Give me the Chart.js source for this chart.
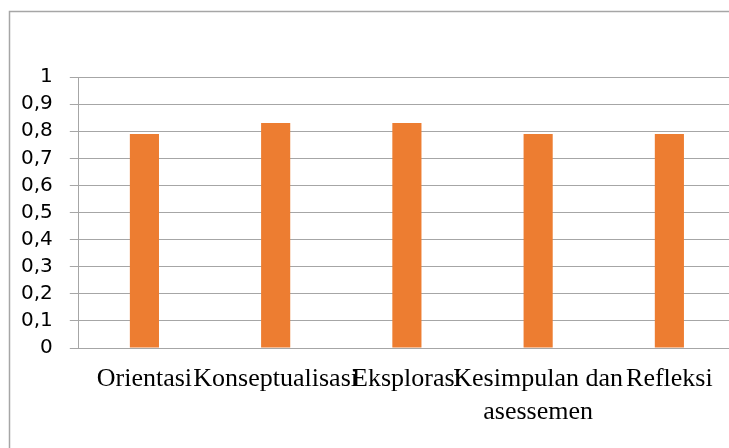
<!DOCTYPE html>
<html>
<head>
<meta charset="utf-8">
<script src="https://cdn.jsdelivr.net/npm/chart.js@4/dist/chart.umd.min.js"></script>
<style>
  html, body { margin: 0; padding: 0; background: #fff; overflow: hidden; }
  #wrap { position: relative; width: 735px; height: 448px; }
</style>
</head>
<body>
<div id="wrap"><canvas id="c"></canvas></div>
<script>
// Phase labels (fourth label wraps onto two lines)
const categories = ['Orientasi', 'Konseptualisasi', 'Eksplorasi', ['Kesimpulan dan', 'asessemen'], 'Refleksi'];
// Score per phase
const scores = [0.79, 0.83, 0.83, 0.79, 0.79];
// Y axis range and step
const yMin = 0;
const yMax = 1;
const yStep = 0.1;

// Frame around the chart object, open on the right and bottom edges
const framePlugin = {
  id: 'frame',
  beforeDraw(chart) {
    const ctx = chart.ctx;
    ctx.save();
    ctx.strokeStyle = '#a6a6a6';
    ctx.lineWidth = 1.5;
    ctx.beginPath();
    ctx.moveTo(9.5, chart.height + 5);
    ctx.lineTo(9.5, 11.5);
    ctx.lineTo(chart.width + 20, 11.5);
    ctx.stroke();
    ctx.restore();
  }
};

new Chart(document.getElementById('c'), {
  type: 'bar',
  data: {
    labels: categories,
    datasets: [{
      data: scores,
      backgroundColor: '#ED7D31',
      borderWidth: 0,
      categoryPercentage: 1,
      barPercentage: 0.222
    }]
  },
  options: {
    responsive: true,
    maintainAspectRatio: false,
    animation: false,
    layout: { padding: { left: 4, top: 77, right: 0, bottom: 5 } },
    plugins: { legend: { display: false }, tooltip: { enabled: false } },
    scales: {
      x: {
        grid: { display: false, drawTicks: false },
        border: { display: true, color: '#a6a6a6', width: 1 },
        ticks: {
          autoSkip: false,
          maxRotation: 0,
          minRotation: 0,
          padding: 15,
          color: '#000',
          font: { family: '"Liberation Serif", "Times New Roman", serif', size: 26, lineHeight: 1.25 }
        }
      },
      y: {
        min: yMin,
        max: yMax,
        grid: { color: '#a6a6a6', lineWidth: 1, tickLength: 9 },
        border: { display: true, color: '#a6a6a6', width: 1 },
        ticks: {
          stepSize: yStep,
          padding: 17,
          color: '#000',
          font: { family: '"DejaVu Sans", sans-serif', size: 20 },
          callback: v => String(Math.round(v * 10) / 10).replace('.', ',')
        }
      }
    }
  },
  plugins: [framePlugin]
});
</script>
</body>
</html>
